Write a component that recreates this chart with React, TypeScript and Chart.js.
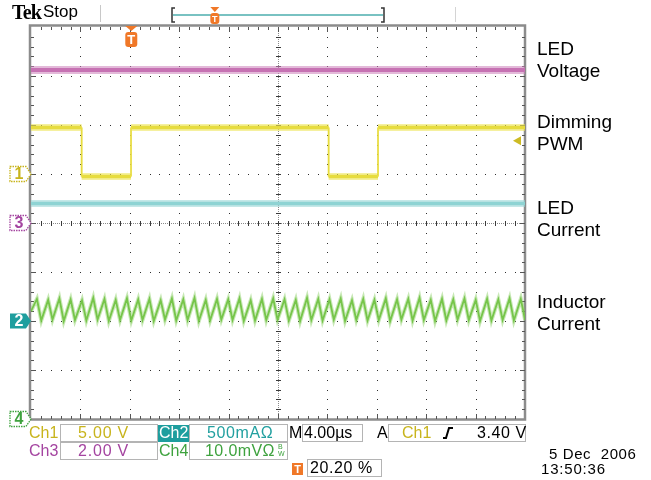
import React, { useEffect, useRef } from "react";
import { Chart, registerables } from "chart.js";

Chart.register(...registerables);

// ---------- scope settings ----------
const US_PER_DIV = 4; // M 4.00µs
const H_DIVS = 10;
const V_DIVS = 8;
const ch1VoltsPerDiv = 5.0;
const ch3VoltsPerDiv = 2.0;
const ch2AmpsPerDiv = 0.5;
const ch4MvPerDiv = 10.0;
// ground reference positions (divisions from bottom)
const ch1Ground = 5;
const ch3Ground = 4;
const ch2Ground = 2;
const ch4Ground = 0;
const triggerLevelVolts = 3.4;
const triggerPercent = 20.2;
const triggerTimeUs = 8.12;

// ---------- waveform data ----------
// Ch1 Dimming PWM (V)
const pwmTimes = [0, 4.1, 4.1, 8.1, 8.1, 24.1, 24.1, 28.1, 28.1, 40];
const pwmVolts = [4.75, 4.75, -0.25, -0.25, 4.75, 4.75, -0.25, -0.25, 4.75, 4.75];
// Ch3 LED Voltage (V)
const ledVoltageTimes = [0, 40];
const ledVoltageVolts = [6.25, 6.25];
// Ch2 LED Current (A)
const ledCurrentTimes = [0, 40];
const ledCurrentAmps = [1.2, 1.2];
// Ch4 Inductor current (mV across sense)
const inductorStart = [0, 22.0];
const inductorPeakTimes = [0.48, 1.39, 2.3, 3.21, 4.13, 5.04, 5.95, 6.86, 7.77, 8.68, 9.59, 10.5, 11.41, 12.33, 13.24, 14.15, 15.06, 15.97, 16.88, 17.79, 18.7, 19.61, 20.53, 21.44, 22.35, 23.26, 24.17, 25.08, 25.99, 26.9, 27.81, 28.73, 29.64, 30.55, 31.46, 32.37, 33.28, 34.19, 35.1, 36.01, 36.93, 37.84, 38.75, 39.66];
const inductorPeakMv = [24.5, 24.3, 24.6, 24.4, 24.2, 24.7, 24.5, 24.3, 24.6, 24.4, 24.5, 24.2, 24.6, 24.4, 24.7, 24.3, 24.5, 24.4, 24.6, 24.2, 24.5, 24.6, 24.4, 24.3, 24.7, 24.5, 24.4, 24.6, 24.2, 24.5, 24.3, 24.6, 24.4, 24.5, 24.7, 24.3, 24.5, 24.4, 24.6, 24.3, 24.5, 24.4, 24.6, 24.5];
const inductorTroughTimes = [0.83, 1.74, 2.65, 3.56, 4.48, 5.39, 6.3, 7.21, 8.12, 9.03, 9.94, 10.85, 11.76, 12.68, 13.59, 14.5, 15.41, 16.32, 17.23, 18.14, 19.05, 19.96, 20.88, 21.79, 22.7, 23.61, 24.52, 25.43, 26.34, 27.25, 28.16, 29.08, 29.99, 30.9, 31.81, 32.72, 33.63, 34.54, 35.45, 36.36, 37.28, 38.19, 39.1, 40.01];
const inductorTroughMv = [20.1, 20.3, 20.0, 20.2, 20.1, 20.3, 20.0, 20.2, 20.1, 20.2, 20.0, 20.3, 20.1, 20.2, 20.0, 20.1, 20.3, 20.2, 20.0, 20.1, 20.2, 20.3, 20.1, 20.0, 20.2, 20.1, 20.3, 20.0, 20.2, 20.1, 20.2, 20.0, 20.3, 20.1, 20.2, 20.0, 20.1, 20.3, 20.2, 20.0, 20.1, 20.2, 20.1, 20.2];

const toPoints = (ts: number[], vs: number[], ground: number, perDiv: number) =>
  ts.map((t, i) => ({ x: t, y: ground + vs[i] / perDiv }));

const inductorPoints = () => {
  const pts = [{ x: inductorStart[0], y: ch4Ground + inductorStart[1] / ch4MvPerDiv }];
  inductorPeakTimes.forEach((t, i) => {
    pts.push({ x: t, y: ch4Ground + inductorPeakMv[i] / ch4MvPerDiv });
    pts.push({ x: inductorTroughTimes[i], y: ch4Ground + inductorTroughMv[i] / ch4MvPerDiv });
  });
  return pts;
};

const YELLOW = "#E0D22A";
const YELLOW_TXT = "#C8B41C";
const MAGENTA = "#BE62AA";
const MAGENTA_TXT = "#A444A0";
const CYAN = "#86D0D0";
const TEAL = "#1E9E9E";
const GREEN = "#6CBF3C";
const GREEN_TXT = "#3EA23E";
const ORANGE = "#F07828";

const vertThin = (w: number) => (c: any) => (c.p0.parsed.x === c.p1.parsed.x ? w : undefined);

const graticulePlugin = {
  id: "graticule",
  beforeDatasetsDraw(chart: any) {
    const { ctx, chartArea: a, scales } = chart;
    const px = (d: number) => scales.x.getPixelForValue(d * US_PER_DIV);
    const py = (d: number) => scales.y.getPixelForValue(d);
    ctx.save();
    // interior dotted grid
    ctx.fillStyle = "#2e2e2e";
    for (let i = 1; i < H_DIVS; i++) {
      if (i === H_DIVS / 2) continue;
      const x = Math.round(px(i));
      for (let k = 1; k < V_DIVS * 5; k++) ctx.fillRect(x, Math.round(py(k / 5)), 1, 1);
    }
    for (let j = 1; j < V_DIVS; j++) {
      if (j === V_DIVS / 2) continue;
      const y = Math.round(py(j));
      for (let k = 1; k < H_DIVS * 5; k++) ctx.fillRect(Math.round(px(k / 5)), y, 1, 1);
    }
    // center cross lines
    const cx = Math.round(px(H_DIVS / 2));
    const cy = Math.round(py(V_DIVS / 2));
    ctx.fillStyle = "#8a8a8a";
    for (let x = Math.round(a.left); x < a.right; x += 2) ctx.fillRect(x, cy, 1, 1);
    for (let y = Math.round(a.top); y < a.bottom; y += 2) ctx.fillRect(cx, y, 1, 1);
    ctx.fillStyle = "#3a3a3a";
    for (let k = 1; k < H_DIVS * 5; k++) {
      const x = Math.round(px(k / 5));
      ctx.fillRect(x, cy - 2, 1, 5);
    }
    for (let k = 1; k < V_DIVS * 5; k++) {
      const y = Math.round(py(k / 5));
      ctx.fillRect(cx - 2, y, 5, 1);
    }
    // frame
    ctx.strokeStyle = "#8c8c8c";
    ctx.lineWidth = 2.5;
    ctx.strokeRect(a.left - 1, a.top - 1.5, a.right - a.left + 1, a.bottom - a.top + 2);
    ctx.fillStyle = "#555";
    for (let k = 1; k < H_DIVS * 5; k++) {
      const x = Math.round(px(k / 5));
      const len = k % 5 === 0 ? 5 : 3;
      ctx.fillRect(x, a.top, 1, len);
      ctx.fillRect(x, a.bottom - len, 1, len);
    }
    for (let k = 1; k < V_DIVS * 5; k++) {
      const y = Math.round(py(k / 5));
      const len = k % 5 === 0 ? 5 : 3;
      ctx.fillRect(a.left, y, len, 1);
      ctx.fillRect(a.right - len, y, len, 1);
    }
    ctx.restore();
  },
};

const drawChannelMarker = (ctx: any, xTip: number, y: number, color: string, label: string, filled: boolean) => {
  ctx.save();
  ctx.beginPath();
  ctx.moveTo(xTip - 21, y - 7.5);
  ctx.lineTo(xTip - 5, y - 7.5);
  ctx.lineTo(xTip, y);
  ctx.lineTo(xTip - 5, y + 7.5);
  ctx.lineTo(xTip - 21, y + 7.5);
  ctx.closePath();
  if (filled) {
    ctx.fillStyle = color;
    ctx.fill();
  } else {
    ctx.fillStyle = "#fff";
    ctx.fill();
    ctx.setLineDash([1.5, 1]);
    ctx.strokeStyle = color;
    ctx.lineWidth = 1.3;
    ctx.stroke();
  }
  ctx.fillStyle = filled ? "#fff" : color;
  ctx.font = "bold 16px 'Liberation Sans', Arial, sans-serif";
  ctx.textAlign = "center";
  ctx.textBaseline = "middle";
  ctx.fillText(label, xTip - 12, y + 1);
  ctx.restore();
};

const drawTMarker = (ctx: any, x: number, top: number, w: number, h: number) => {
  ctx.save();
  ctx.fillStyle = ORANGE;
  ctx.beginPath();
  ctx.moveTo(x - w / 2, top);
  ctx.lineTo(x + w / 2, top);
  ctx.lineTo(x, top + 5);
  ctx.closePath();
  ctx.fill();
  const rt = top + 6;
  const r = 3;
  ctx.beginPath();
  ctx.moveTo(x - w / 2 + r, rt);
  ctx.lineTo(x + w / 2 - r, rt);
  ctx.quadraticCurveTo(x + w / 2, rt, x + w / 2, rt + r);
  ctx.lineTo(x + w / 2, rt + h - r);
  ctx.quadraticCurveTo(x + w / 2, rt + h, x + w / 2 - r, rt + h);
  ctx.lineTo(x - w / 2 + r, rt + h);
  ctx.quadraticCurveTo(x - w / 2, rt + h, x - w / 2, rt + h - r);
  ctx.lineTo(x - w / 2, rt + r);
  ctx.quadraticCurveTo(x - w / 2, rt, x - w / 2 + r, rt);
  ctx.fill();
  ctx.fillStyle = "#fff";
  ctx.font = `bold ${Math.round(h * 0.85)}px 'Liberation Sans', Arial, sans-serif`;
  ctx.textAlign = "center";
  ctx.textBaseline = "middle";
  ctx.fillText("T", x, rt + h / 2 + 1);
  ctx.restore();
};

const markerPlugin = {
  id: "markers",
  afterDatasetsDraw(chart: any) {
    const { ctx, chartArea: a, scales } = chart;
    const py = (d: number) => scales.y.getPixelForValue(d);
    drawChannelMarker(ctx, a.left, py(ch1Ground), YELLOW_TXT, "1", false);
    drawChannelMarker(ctx, a.left, py(ch3Ground), MAGENTA_TXT, "3", false);
    drawChannelMarker(ctx, a.left, py(ch2Ground), TEAL, "2", true);
    drawChannelMarker(ctx, a.left, py(ch4Ground), GREEN_TXT, "4", false);
    // trigger level marker (right)
    const ty = py(ch1Ground + triggerLevelVolts / ch1VoltsPerDiv);
    ctx.save();
    ctx.fillStyle = "#CDBB24";
    ctx.beginPath();
    ctx.moveTo(a.right - 12, ty);
    ctx.lineTo(a.right - 4, ty - 4.5);
    ctx.lineTo(a.right - 4, ty + 4.5);
    ctx.closePath();
    ctx.fill();
    ctx.restore();
    // trigger position marker (top)
    const tx = scales.x.getPixelForValue(triggerTimeUs);
    drawTMarker(ctx, tx, a.top - 1, 12, 15);
    // header record bar
    ctx.save();
    ctx.fillStyle = "#c8c8c8";
    ctx.fillRect(100, 5, 1, 17);
    ctx.fillStyle = "#d4d4d4";
    ctx.fillRect(455, 7, 1, 15);
    const bl = 172, br = 384;
    ctx.strokeStyle = "#333";
    ctx.lineWidth = 1.5;
    ctx.beginPath();
    ctx.moveTo(bl + 3, 8); ctx.lineTo(bl, 8); ctx.lineTo(bl, 22); ctx.lineTo(bl + 3, 22);
    ctx.moveTo(br - 3, 8); ctx.lineTo(br, 8); ctx.lineTo(br, 22); ctx.lineTo(br - 3, 22);
    ctx.stroke();
    ctx.strokeStyle = "#4DAEAE";
    ctx.lineWidth = 1.5;
    ctx.beginPath();
    ctx.moveTo(bl + 1, 15);
    ctx.lineTo(br - 1, 15);
    ctx.stroke();
    ctx.restore();
    drawTMarker(ctx, bl + (br - bl) * triggerPercent / 100, 7, 9, 11);
  },
};

const FONT = "'Liberation Sans', Arial, Helvetica, sans-serif";

const T = ({ l, t, c = "#000", s = 16, children, st = {} }: any) => (
  <div style={{ position: "absolute", left: l, top: t, color: c, fontSize: s, lineHeight: "18px", fontFamily: FONT, whiteSpace: "pre", ...st }}>
    {children}
  </div>
);

const Box = ({ l, t, w, h = 18 }: any) => (
  <div style={{ position: "absolute", left: l, top: t, width: w, height: h, border: "1px solid #b4b4b4", boxSizing: "border-box" }} />
);

export default function App() {
  const ref = useRef<HTMLCanvasElement>(null);
  useEffect(() => {
    const lineBase = { pointRadius: 0, tension: 0, fill: false, borderCapStyle: "butt", borderJoinStyle: "miter" };
    const chart = new Chart(ref.current!, {
      type: "line",
      data: {
        datasets: [
          { ...lineBase, label: "LED Voltage halo", data: toPoints(ledVoltageTimes, ledVoltageVolts, ch3Ground, ch3VoltsPerDiv), borderColor: "rgba(204,128,186,0.55)", borderWidth: 8 },
          { ...lineBase, label: "LED Voltage", data: toPoints(ledVoltageTimes, ledVoltageVolts, ch3Ground, ch3VoltsPerDiv), borderColor: MAGENTA, borderWidth: 4 },
          { ...lineBase, label: "Dimming PWM halo", data: toPoints(pwmTimes, pwmVolts, ch1Ground, ch1VoltsPerDiv), borderColor: "rgba(236,228,80,0.55)", borderWidth: 7, segment: { borderWidth: vertThin(2) } },
          { ...lineBase, label: "Dimming PWM", data: toPoints(pwmTimes, pwmVolts, ch1Ground, ch1VoltsPerDiv), borderColor: YELLOW, borderWidth: 3.5, segment: { borderWidth: vertThin(1.5) } },
          { ...lineBase, label: "LED Current halo", data: toPoints(ledCurrentTimes, ledCurrentAmps, ch2Ground, ch2AmpsPerDiv), borderColor: "rgba(150,214,214,0.55)", borderWidth: 7 },
          { ...lineBase, label: "LED Current", data: toPoints(ledCurrentTimes, ledCurrentAmps, ch2Ground, ch2AmpsPerDiv), borderColor: CYAN, borderWidth: 3.5 },
          { ...lineBase, label: "Inductor Current halo", data: inductorPoints(), borderColor: "rgba(130,204,90,0.45)", borderWidth: 4 },
          { ...lineBase, label: "Inductor Current", data: inductorPoints(), borderColor: GREEN, borderWidth: 1.8 },
        ],
      },
      options: {
        responsive: false,
        animation: false,
        devicePixelRatio: 1,
        events: [],
        layout: { padding: { left: 31, right: 126, top: 27, bottom: 61 } },
        plugins: { legend: { display: false }, tooltip: { enabled: false }, title: { display: false } },
        scales: {
          x: { type: "linear", min: 0, max: H_DIVS * US_PER_DIV, display: false },
          y: { type: "linear", min: 0, max: V_DIVS, display: false },
        },
      } as any,
      plugins: [graticulePlugin, markerPlugin],
    } as any);
    return () => chart.destroy();
  }, []);

  const label = (text: string, l: number, t: number) => (
    <div style={{ position: "absolute", left: l, top: t, fontFamily: FONT, fontSize: 19, lineHeight: "22px", color: "#000", whiteSpace: "pre" }}>{text}</div>
  );

  return (
    <div style={{ position: "fixed", left: 0, top: 0, width: 651, height: 480, background: "#fff", overflow: "hidden" }}>
      <canvas ref={ref} width={651} height={480} style={{ position: "absolute", left: 0, top: 0, width: 651, height: 480 }} />
      {/* header */}
      <div style={{ position: "absolute", left: 12, top: 1, fontFamily: "'Liberation Serif', 'Times New Roman', serif", fontWeight: "bold", fontSize: 20, lineHeight: "22px", letterSpacing: -0.8 }}>Tek</div>
      <div style={{ position: "absolute", left: 43, top: 1, fontFamily: FONT, fontSize: 17, lineHeight: "22px" }}>Stop</div>
      {/* right labels */}
      <div style={{ position: "absolute", left: 537, top: 38 }}>{label("LED", 0, 0)}{label("Voltage", 0, 22)}</div>
      <div style={{ position: "absolute", left: 537, top: 111 }}>{label("Dimming", 0, 0)}{label("PWM", 0, 22)}</div>
      <div style={{ position: "absolute", left: 537, top: 197 }}>{label("LED", 0, 0)}{label("Current", 0, 22)}</div>
      <div style={{ position: "absolute", left: 537, top: 291 }}>{label("Inductor", 0, 0)}{label("Current", 0, 22)}</div>
      {/* status row 1 */}
      <T l={29} t={424} c={YELLOW_TXT}>Ch1</T>
      <Box l={60} t={424} w={98} />
      <T l={78} t={424} c={YELLOW_TXT} st={{ letterSpacing: 0.8 }}>5.00 V</T>
      <div style={{ position: "absolute", left: 158, top: 425, width: 31, height: 17, background: TEAL }} />
      <T l={159} t={424} c="#fff">Ch2</T>
      <Box l={189} t={424} w={99} />
      <T l={207} t={424} c="#22A0A0" st={{ letterSpacing: 0.6 }}>500mAΩ</T>
      <T l={289} t={424}>M</T>
      <Box l={302} t={424} w={61} />
      <T l={304} t={424}>4.00µs</T>
      <T l={377} t={424}>A</T>
      <Box l={388} t={424} w={138} />
      <T l={402} t={424} c={YELLOW_TXT}>Ch1</T>
      <svg style={{ position: "absolute", left: 442, top: 426 }} width={12} height={14}>
        <path d="M1 12 L4 12 L7 2 L11 2" stroke="#000" strokeWidth={2} fill="none" />
      </svg>
      <T l={477} t={424} st={{ letterSpacing: 0.6 }}>3.40 V</T>
      {/* status row 2 */}
      <T l={29} t={442} c={MAGENTA_TXT}>Ch3</T>
      <Box l={60} t={442} w={98} />
      <T l={78} t={442} c={MAGENTA_TXT} st={{ letterSpacing: 0.8 }}>2.00 V</T>
      <T l={159} t={442} c={GREEN_TXT}>Ch4</T>
      <Box l={189} t={442} w={99} />
      <T l={205} t={442} c={GREEN_TXT} st={{ letterSpacing: 0.4 }}>10.0mVΩ</T>
      <div style={{ position: "absolute", left: 278, top: 443, color: GREEN_TXT, fontFamily: FONT, fontSize: 7, lineHeight: "7px" }}>B<br />W</div>
      {/* status row 3 */}
      <div style={{ position: "absolute", left: 292, top: 463, width: 11, height: 12, background: ORANGE, color: "#fff", fontFamily: FONT, fontWeight: "bold", fontSize: 11, lineHeight: "12px", textAlign: "center" }}>T</div>
      <Box l={307} t={459} w={75} />
      <T l={310} t={459} st={{ letterSpacing: 0.6 }}>20.20 %</T>
      {/* date / time */}
      <T l={549} t={445} s={15} st={{ letterSpacing: 0.6 }}>5 Dec  2006</T>
      <T l={541} t={460} s={15} st={{ letterSpacing: 0.8 }}>13:50:36</T>
    </div>
  );
}
